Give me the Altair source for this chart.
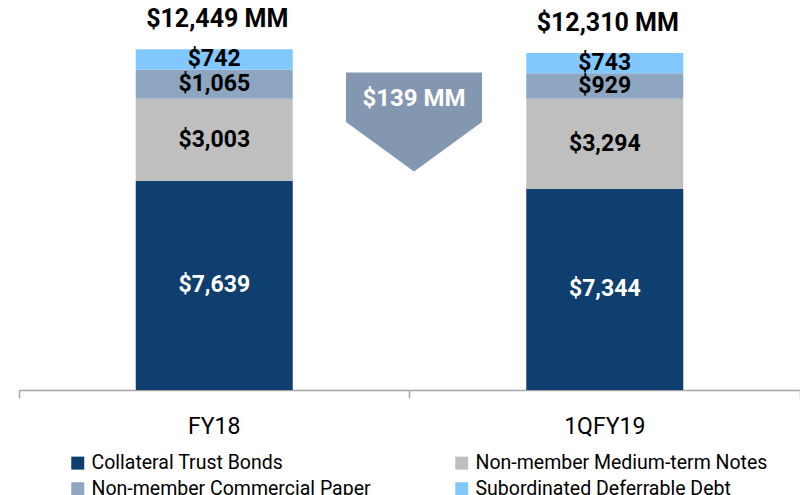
import altair as alt
import pandas as pd

periods = ["FY18", "1QFY19"]
series = [
    "Collateral Trust Bonds",
    "Non-member Medium-term Notes",
    "Non-member Commercial Paper",
    "Subordinated Deferrable Debt",
]
collateral_trust_bonds = [7639, 7344]
medium_term_notes = [3003, 3294]
commercial_paper = [1065, 929]
subordinated_debt = [742, 743]
totals = [12449, 12310]
total_labels = ["$12,449 MM", "$12,310 MM"]
change_label = "$139 MM"

colors = ["#0f3f6e", "#bfbfbf", "#8ea6c0", "#80c8ff"]
text_colors = ["#ffffff", "#000000", "#000000", "#000000"]
# legend is filled column by column: CTB, CP | MTN, SDD
legend_order = [series[0], series[2], series[1], series[3]]
legend_colors = [colors[0], colors[2], colors[1], colors[3]]
FONT = "Roboto"

rows = []
values_by_series = [collateral_trust_bonds, medium_term_notes, commercial_paper, subordinated_debt]
for pi, p in enumerate(periods):
    base = 0
    for si, s in enumerate(series):
        v = values_by_series[si][pi]
        rows.append({
            "period": p, "series": s, "order": si, "value": v,
            "start": base, "end": base + v, "mid": base + v / 2,
            "label": f"${v:,}", "tcolor": text_colors[si],
        })
        base += v
seg = pd.DataFrame(rows)
tot = pd.DataFrame({"period": periods, "total": totals, "label": total_labels})
arrow = pd.DataFrame({"period": [periods[0]], "anchor": [9785], "label": [change_label]})

ymax = 13880
xenc = alt.X("period:N", sort=periods, scale=alt.Scale(domain=periods, paddingInner=0, paddingOuter=0),
             axis=alt.Axis(title=None, bandPosition=1, tickExtra=True, labelAngle=0,
                           domainColor="#a6a6a6", domainWidth=1.5, tickColor="#a6a6a6",
                           tickWidth=1.5, tickSize=8, labelFont=FONT, labelFontSize=23,
                           labelColor="#000000", labelPadding=17))
yscale = alt.Scale(domain=[0, ymax], nice=False, zero=True)

bars = alt.Chart(seg).mark_bar(width=157).encode(
    x=xenc,
    y=alt.Y("start:Q", scale=yscale, axis=None),
    y2="end:Q",
    color=alt.Color("series:N", sort=legend_order,
                    scale=alt.Scale(domain=legend_order, range=legend_colors),
                    legend=alt.Legend(title=None, orient="none", legendX=49, legendY=443,
                                      columns=2, columnPadding=81, rowPadding=5,
                                      symbolType="square", symbolSize=169,
                                      symbolStrokeWidth=0, labelFont=FONT,
                                      labelFontSize=19.5, labelColor="#000000",
                                      labelLimit=400, padding=0)),
    order=alt.Order("order:Q"),
)

seg_text = alt.Chart(seg).mark_text(font=FONT, fontSize=23, fontWeight="bold").encode(
    x=alt.X("period:N", sort=periods),
    y=alt.Y("mid:Q", scale=yscale),
    text="label:N",
    color=alt.Color("tcolor:N", scale=None),
)

tot_text = alt.Chart(tot).mark_text(font=FONT, fontSize=25, fontWeight="bold", dy=-30,
                                    dx=3, color="#000000").encode(
    x=alt.X("period:N", sort=periods),
    y=alt.Y("total:Q", scale=yscale),
    text="label:N",
)

arrow_shape = alt.Chart(arrow).mark_point(
    shape="M-1,-0.728L1,-0.728L1,0L0,0.728L-1,0Z", size=18496, filled=True,
    color="#8497b0", opacity=1, strokeWidth=0, xOffset=4.5,
).encode(
    x=alt.X("period:N", sort=periods, bandPosition=1),
    y=alt.Y("anchor:Q", scale=yscale),
)

arrow_text = alt.Chart(arrow).mark_text(font=FONT, fontSize=24, fontWeight="bold",
                                        color="#ffffff", dy=-23, xOffset=4.5).encode(
    x=alt.X("period:N", sort=periods, bandPosition=1),
    y=alt.Y("anchor:Q", scale=yscale),
    text="label:N",
)

chart = alt.layer(bars, seg_text, tot_text, arrow_shape, arrow_text).properties(
    width=781, height=380,
    autosize=alt.AutoSizeParams(type="none"),
    padding={"left": 11, "top": 2, "right": 0, "bottom": 105},
).configure_view(stroke=None).configure_axis(grid=False)

chart.save("out.html", embed_options={"renderer": "svg", "actions": False})
